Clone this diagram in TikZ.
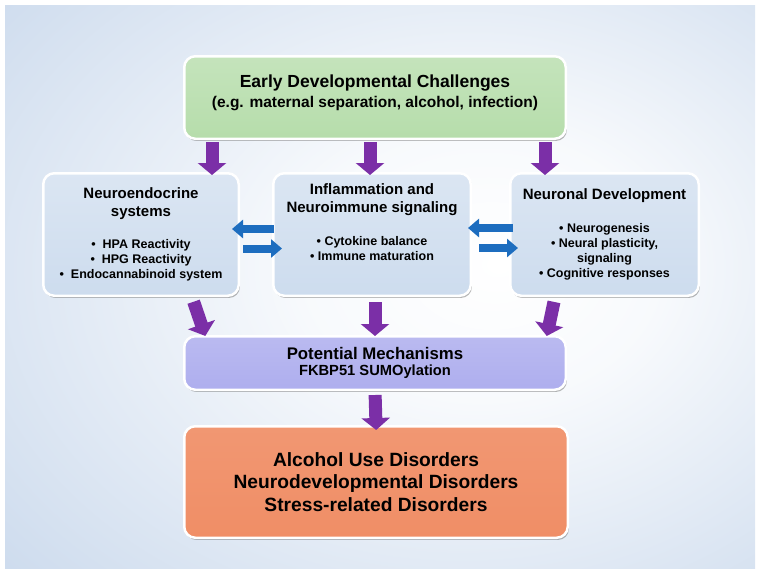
\documentclass[tikz,border=0pt]{standalone}
\usepackage{fontspec}
\setmainfont{Liberation Sans}
\usetikzlibrary{arrows.meta,shadows}

\definecolor{bgblue}{HTML}{B5CAE5}
\definecolor{greenbox}{HTML}{B6DDAB}
\definecolor{bluebox}{HTML}{CDDCEE}
\definecolor{lilacbox}{HTML}{AEAEEE}
\definecolor{orangebox}{HTML}{F08E66}
\definecolor{arrowpurple}{HTML}{7B2FA7}
\definecolor{arrowblue}{HTML}{1D6DBF}

\newcommand{\headsize}{\fontsize{15}{18}\selectfont}

\pgfdeclareradialshading{backdrop}{\pgfpoint{8bp}{2bp}}{%
  color(0bp)=(white); color(12bp)=(white!90!bgblue); color(55bp)=(bgblue); color(80bp)=(bgblue!92!black)}

\begin{document}
\begin{tikzpicture}[x=1pt, y=-1pt,
  stage/.style={draw=white, line width=2.5pt, rounded corners=11pt, inner sep=0pt, align=center,
    drop shadow={shadow xshift=1.2pt, shadow yshift=-2.2pt, opacity=.4, fill=black!70}},
  downarrow/.style={color=arrowpurple, line width=13pt, -{Triangle[width=28pt,length=12pt]}},
  crossarrow/.style={draw=arrowblue, line width=8pt, -{Triangle[width=18pt,length=11pt]}}]
  \useasboundingbox (0,0) rectangle (761,574);
  \shade[shading=backdrop] (5,5) rectangle (755,568);

  \node[stage, top color=greenbox!80!white, bottom color=greenbox, minimum width=381.5pt, minimum height=82.5pt,
    font=\bfseries\fontsize{15.5}{19.5}\selectfont] (early) at (375,97.5)
    {{\fontsize{17.5}{20}\selectfont Early Developmental Challenges}\\(e.g. maternal separation, alcohol, infection)\\[-7pt]\mbox{}};
  \node[stage, top color=bluebox!72!white, bottom color=bluebox, minimum width=195.5pt, minimum height=122.5pt,
    font=\bfseries\fontsize{12.5}{15}\selectfont] (neuroendo) at (141,234.5)
    {{\headsize Neuroendocrine}\\[3pt]{\headsize systems}\\[17.5pt]
     \textbullet\hspace{7pt}HPA Reactivity\\\textbullet\hspace{7pt}HPG Reactivity\\\textbullet\hspace{7pt}Endocannabinoid system};
  \node[stage, top color=bluebox!72!white, bottom color=bluebox, minimum width=197.5pt, minimum height=122.5pt,
    font=\bfseries\fontsize{12.5}{15}\selectfont] (inflam) at (372,234.5)
    {{\headsize Inflammation and}\\[3pt]{\headsize Neuroimmune signaling}\\[18pt]
     \textbullet~Cytokine balance\\\textbullet~Immune maturation\\[9pt]\mbox{}};
  \node[stage, top color=bluebox!72!white, bottom color=bluebox, minimum width=188.5pt, minimum height=122.5pt,
    font=\bfseries\fontsize{12.5}{15}\selectfont] (neurodev) at (604.5,234.5)
    {{\headsize Neuronal Development}\\[18.5pt]
     \textbullet~Neurogenesis\\\textbullet~Neural plasticity,\\signaling\\\textbullet~Cognitive responses};
  \node[stage, top color=lilacbox!85!white, bottom color=lilacbox, minimum width=381.5pt, minimum height=53.5pt,
    font=\bfseries\fontsize{14.7}{16.5}\selectfont] (mech) at (375,363)
    {{\fontsize{16.8}{19}\selectfont Potential Mechanisms}\\FKBP51 SUMOylation};
  \node[stage, top color=orangebox!92!white, bottom color=orangebox, minimum width=383.5pt, minimum height=111.5pt,
    font=\bfseries\fontsize{19.2}{22.5}\selectfont] (disorder) at (376,482)
    {Alcohol Use Disorders\\Neurodevelopmental Disorders\\Stress-related Disorders};

  \path[downarrow, shorten <=2pt, shorten >=-3pt]
    ([xshift=-163pt]early.south) edge ([xshift=-163pt]early.south |- neuroendo.north)
    ([xshift=-5pt]early.south) edge ([xshift=-5pt]early.south |- inflam.north)
    ([xshift=170pt]early.south) edge ([xshift=170pt]early.south |- neurodev.north);
  \path[downarrow, shorten <=5pt, shorten >=-1pt]
    ([xshift=51pt]neuroendo.south) edge ([xshift=-170pt]mech.north)
    ([xshift=3pt]inflam.south) edge ([xshift=3pt]inflam.south |- mech.north)
    ([xshift=-49.5pt]neurodev.south) edge ([xshift=172pt]mech.north);
  \path[downarrow, shorten <=4pt, shorten >=-5pt]
    (mech.south) edge (disorder.north);

  \draw[crossarrow, shorten <=-2pt, shorten >=-8pt] ([yshift=5.5pt]inflam.west) -- ([yshift=5.5pt]neuroendo.east);
  \draw[crossarrow, shorten <=3pt, shorten >=-10pt] ([yshift=-14pt]neuroendo.east) -- ([yshift=-14pt]inflam.west);
  \draw[crossarrow, shorten <=-4pt, shorten >=-4pt] ([yshift=6.5pt]neurodev.west) -- ([yshift=6.5pt]inflam.east);
  \draw[crossarrow, shorten <=7pt, shorten >=-9pt] ([yshift=-13.5pt]inflam.east) -- ([yshift=-13.5pt]neurodev.west);
\end{tikzpicture}
\end{document}
